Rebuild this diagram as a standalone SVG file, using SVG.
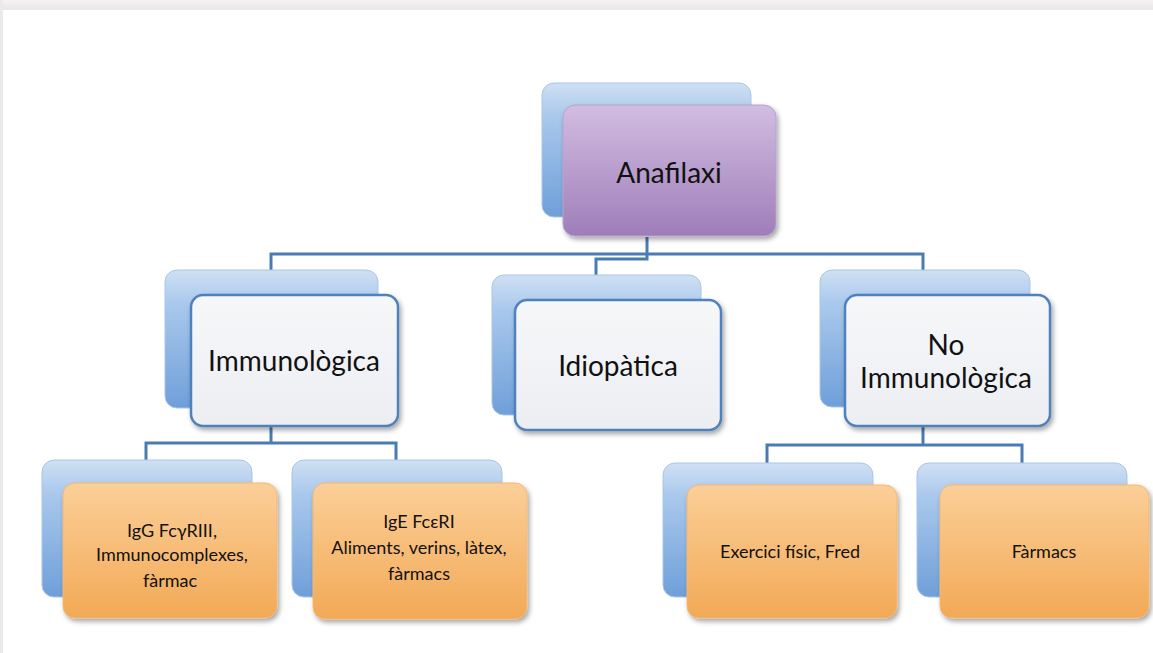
<svg xmlns="http://www.w3.org/2000/svg" width="1153" height="653" viewBox="0 0 1153 653">
<style>
.back{fill:url(#gBlue);stroke:#a9c6e8;stroke-width:1}
.purple{fill:url(#gPurple);stroke:#b9a2cc;stroke-width:1;filter:url(#sh)}
.gray{fill:url(#gGray);stroke:#4f81bd;stroke-width:2.5;filter:url(#sh)}
.orange{fill:url(#gOrange);stroke:#f2b878;stroke-width:1;filter:url(#sh)}
.big{font-family:Lato,"Open Sans","Liberation Sans",sans-serif;font-size:28px;fill:#111;text-anchor:middle}
.small{font-family:Lato,"Open Sans","Liberation Sans",sans-serif;font-size:18px;fill:#111;text-anchor:middle}
.conn{fill:none;stroke:#4a7bb3;stroke-width:3}
</style>
<defs>
<linearGradient id="gBlue" x1="0" y1="0" x2="0" y2="1">
<stop offset="0" stop-color="#cfe0f3"/>
<stop offset="0.25" stop-color="#a9c8ec"/>
<stop offset="1" stop-color="#6f9fd9"/>
</linearGradient>
<linearGradient id="gPurple" x1="0" y1="0" x2="0" y2="1">
<stop offset="0" stop-color="#d2bde1"/>
<stop offset="1" stop-color="#9e7eb9"/>
</linearGradient>
<linearGradient id="gGray" x1="0" y1="0" x2="0" y2="1">
<stop offset="0" stop-color="#f6f7f9"/>
<stop offset="1" stop-color="#eceef2"/>
</linearGradient>
<linearGradient id="gOrange" x1="0" y1="0" x2="0" y2="1">
<stop offset="0" stop-color="#fbcf98"/>
<stop offset="1" stop-color="#f2a956"/>
</linearGradient>
<linearGradient id="gTop" x1="0" y1="0" x2="0" y2="1">
<stop offset="0" stop-color="#f6f2f4"/>
<stop offset="1" stop-color="#ebe6e9"/>
</linearGradient>
<filter id="sh" x="-10%" y="-10%" width="125%" height="130%">
<feDropShadow dx="2" dy="3" stdDeviation="2.5" flood-color="#000" flood-opacity="0.35"/>
</filter>
</defs>
<rect x="0" y="0" width="1153" height="653" fill="#ffffff"/>
<rect x="0" y="0" width="1153" height="10" fill="url(#gTop)"/>
<rect x="0" y="0" width="3" height="653" fill="#ece9eb"/>

<g id="connectors">
<path class="conn" d="M647 237 V259 H596 V277"/>
<path class="conn" d="M271 273 V254 H923 V273"/>
<path class="conn" d="M271 427 V443 M146 463 V443 H396 V463"/>
<path class="conn" d="M923 427 V445 M767 463 V445 H1022 V463"/>
</g>

<g id="anafilaxi">
<rect class="back" x="542" y="83" width="209" height="134" rx="12"/>
<rect class="purple" x="563" y="105" width="213" height="131" rx="12"/>
<text class="big" x="669" y="183">Anafilaxi</text>
</g>

<g id="immunologica">
<rect class="back" x="165" y="270" width="213" height="138" rx="12"/>
<rect class="gray" x="191" y="295" width="207" height="131" rx="12"/>
<text class="big" x="294" y="371">Immunològica</text>
</g>

<g id="idiopatica">
<rect class="back" x="492" y="275" width="209" height="140" rx="12"/>
<rect class="gray" x="515" y="300" width="206" height="130" rx="12"/>
<text class="big" x="618" y="376">Idiopàtica</text>
</g>

<g id="no-immunologica">
<rect class="back" x="820" y="270" width="210" height="137" rx="12"/>
<rect class="gray" x="845" y="295" width="205" height="131" rx="12"/>
<text class="big" x="946" y="355">No</text>
<text class="big" x="946" y="388">Immunològica</text>
</g>

<g id="igg">
<rect class="back" x="42" y="460" width="210" height="137" rx="12"/>
<rect class="orange" x="63" y="483" width="214" height="135" rx="12"/>
<text class="small" x="172" y="537">IgG FcγRIII,</text>
<text class="small" x="172" y="561">Immunocomplexes,</text>
<text class="small" x="170" y="587">fàrmac</text>
</g>

<g id="ige">
<rect class="back" x="292" y="460" width="210" height="137" rx="12"/>
<rect class="orange" x="313" y="483" width="214" height="136" rx="12"/>
<text class="small" x="419" y="528">IgE FcεRI</text>
<text class="small" x="419" y="554">Aliments, verins, làtex,</text>
<text class="small" x="419" y="580">fàrmacs</text>
</g>

<g id="exercici">
<rect class="back" x="663" y="463" width="210" height="134" rx="12"/>
<rect class="orange" x="687" y="485" width="210" height="133" rx="12"/>
<text class="small" x="790" y="558">Exercici físic, Fred</text>
</g>

<g id="farmacs">
<rect class="back" x="917" y="463" width="210" height="134" rx="12"/>
<rect class="orange" x="940" y="485" width="209" height="133" rx="12"/>
<text class="small" x="1044" y="558">Fàrmacs</text>
</g>
</svg>
